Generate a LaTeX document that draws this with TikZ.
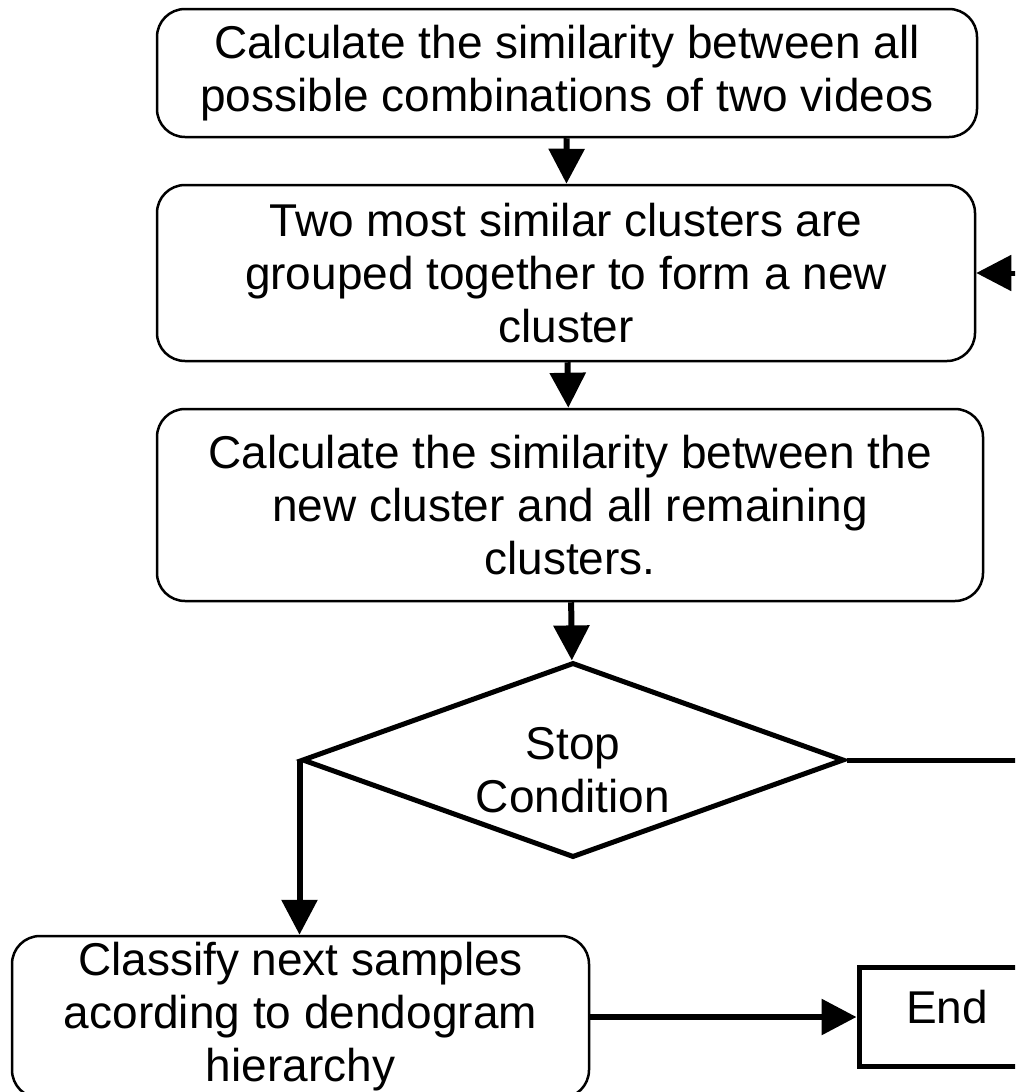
\documentclass[tikz,border=0pt]{standalone}
\usepackage{fontspec}
\setmainfont{Liberation Sans}
\usetikzlibrary{shapes.geometric, arrows.meta, positioning}

\begin{document}
\begin{tikzpicture}[node distance=200pt, auto,
    block/.style={rectangle, draw, line width=2.5pt, rounded corners=28pt, align=center, inner sep=0pt, font=\fontsize{46}{53}\selectfont},
    decision/.style={diamond, draw, line width=5pt, aspect=2.78, inner sep=0pt, minimum width=542pt, minimum height=195pt, text height=106pt, align=center, font=\fontsize{46}{53}\selectfont},
    terminal/.style={rectangle, draw, line width=5pt, minimum width=176pt, minimum height=99pt, text height=33pt, text depth=20pt, font=\fontsize{46}{53}\selectfont},
    line/.style={draw, line width=6pt, -{Triangle[length=35pt, width=35pt]}}]

    \useasboundingbox (0pt,0pt) rectangle (1015pt,-1092pt);
    \clip (0pt,0pt) rectangle (1015pt,-1092pt);

    \node [block, minimum width=820pt, minimum height=128pt] (similitud) at (567pt,-73pt) {Calculate the similarity between all\\possible combinations of two videos};
    \node [block, below of=similitud, xshift=-1pt, minimum width=818pt, minimum height=176pt] (agrupar) {Two most similar clusters are\\grouped together to form a new\\cluster};
    \node [block, below of=agrupar, xshift=4pt, yshift=-32pt, minimum width=826pt, minimum height=192pt] (recalcular) {Calculate the similarity between the\\new cluster and all remaining\\clusters.};
    \node [decision, below of=recalcular, xshift=3pt, yshift=-55pt] (parada) {Stop\\Condition};
    \node [block, below of=parada, xshift=-272.5pt, yshift=-57pt, minimum width=577pt, minimum height=162pt] (clasificar) {Classify next samples\\acording to dendogram\\hierarchy};
    \node [terminal, right of=clasificar, xshift=446.5pt] (fin) {End};

    \path [line] (similitud) -- (agrupar);
    \path [line] (agrupar) -- (recalcular);
    \path [line] (recalcular) -- (parada);
    \path [line] (parada.west) -- (parada.west |- clasificar.north);
    \path [line] (clasificar) -- (fin);
    \path (parada.east) ++(200pt,0) coordinate (retorno);
    \path [line, line width=5pt] (parada.east) -- (retorno) |- (agrupar.east);
\end{tikzpicture}
\end{document}
